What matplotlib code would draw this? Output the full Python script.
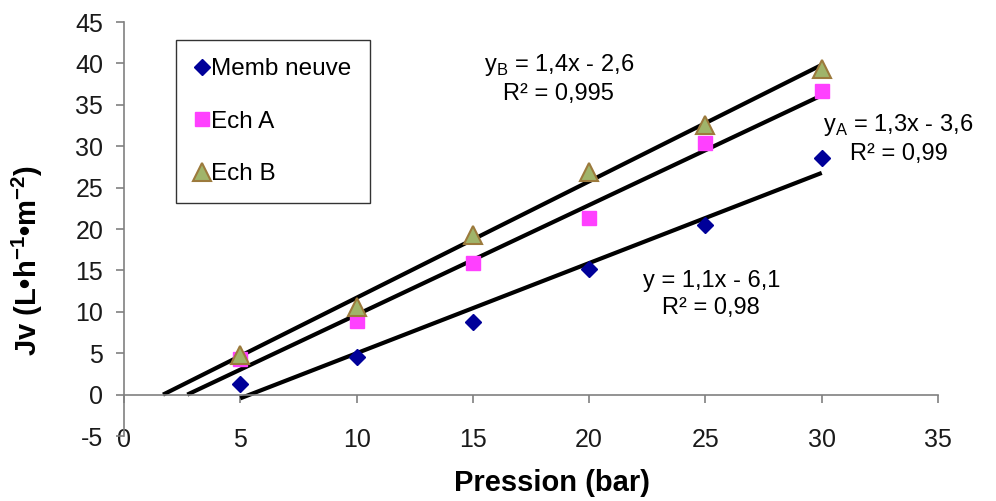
import numpy as np
import matplotlib
matplotlib.use('Agg')
import matplotlib.pyplot as plt

plt.rcParams['font.family'] = ['Liberation Sans', 'DejaVu Sans']
plt.rcParams['mathtext.fontset'] = 'custom'
plt.rcParams['mathtext.rm'] = 'Liberation Sans'
plt.rcParams['mathtext.bf'] = 'Liberation Sans:bold'
plt.rcParams['axes.unicode_minus'] = False

# pressure (bar) and permeate flux values
pression = [5, 10, 15, 20, 25, 30]
memb_neuve = [1.3, 4.6, 8.8, 15.2, 20.5, 28.6]
ech_a = [4.3, 8.9, 15.9, 21.3, 30.4, 36.7]
ech_b = [4.8, 10.6, 19.3, 26.9, 32.6, 39.3]

# trendline equations as printed on the chart
eq_labels = ['y = 1,1x - 6,1\nR² = 0,98',
             'y$_\\mathregular{A}$ = 1,3x - 3,6\nR² = 0,99',
             'y$_\\mathregular{B}$ = 1,4x - 2,6\nR² = 0,995']

fig = plt.figure(figsize=(9.96, 5.01), dpi=100)
ax = fig.add_axes([0.1245, 0.1297, 0.8173, 0.8263])

x = np.array(pression, dtype=float)

# linear trendlines (fitted), extended back toward y = 0 like Excel
for y, x0 in [(memb_neuve, None), (ech_a, 'root'), (ech_b, 'root')]:
    a, b = np.polyfit(x, y, 1)
    start = -b / a if x0 == 'root' else x[0]
    xs = np.array([start, x[-1]])
    ax.plot(xs, a * xs + b, color='black', lw=3, solid_capstyle='butt', zorder=2)

ax.plot(x, memb_neuve, 'D', color='#000099', ms=8, ls='none', label='Memb neuve', zorder=3)
ax.plot(x, ech_a, 's', color='#FF40FF', ms=10, ls='none', label='Ech A', zorder=3)
ax.plot(x, ech_b, '^', mfc='#A0B46A', mec='#9C7A3C', mew=1.5, ms=13, ls='none',
        label='Ech B', zorder=3)

ax.set_xlim(0, 35)
ax.set_ylim(-5, 45)
ax.set_xticks(range(0, 36, 5))
ax.set_yticks(range(-5, 46, 5))

for s in ['top', 'right']:
    ax.spines[s].set_visible(False)
ax.spines['left'].set_color('#808080')
ax.spines['left'].set_linewidth(1.2)
ax.spines['bottom'].set_position(('data', 0))
ax.spines['bottom'].set_color('#808080')
ax.spines['bottom'].set_linewidth(1.2)
ax.tick_params(axis='x', direction='out', length=6, width=1.2, color='#808080', pad=18,
               labelsize=18, labelcolor='#1a1a1a')
ax.tick_params(axis='y', direction='out', length=6, width=1.2, color='#808080', pad=9,
               labelsize=18, labelcolor='#1a1a1a')

ax.set_xlabel('Pression (bar)', fontsize=21, fontweight='bold')
ax.xaxis.set_label_coords(0.526, -0.08)
ax.set_ylabel('Jv (L•h$^{\\mathbf{-1}}$•m$^{\\mathbf{-2}}$)', fontsize=21,
              fontweight='bold')
ax.yaxis.set_label_coords(-0.097, 0.425)

ax.text(25.25, 12.1, eq_labels[0], fontsize=17, ha='center', va='center', linespacing=1.3)
ax.text(33.3, 30.9, eq_labels[1], fontsize=17, ha='center', va='center', linespacing=1.3)
ax.text(18.7, 38.2, eq_labels[2], fontsize=17, ha='center', va='center', linespacing=1.3)

leg = ax.legend(loc='upper left', bbox_to_anchor=(0.1767, 0.920), bbox_transform=fig.transFigure,
                fontsize=17.5, frameon=True, fancybox=False, edgecolor='black',
                handletextpad=0.1, handlelength=0.6, labelspacing=1.25,
                borderpad=0.75, borderaxespad=0)
leg.get_frame().set_linewidth(1.0)

fig.savefig('out.png', dpi=100)
